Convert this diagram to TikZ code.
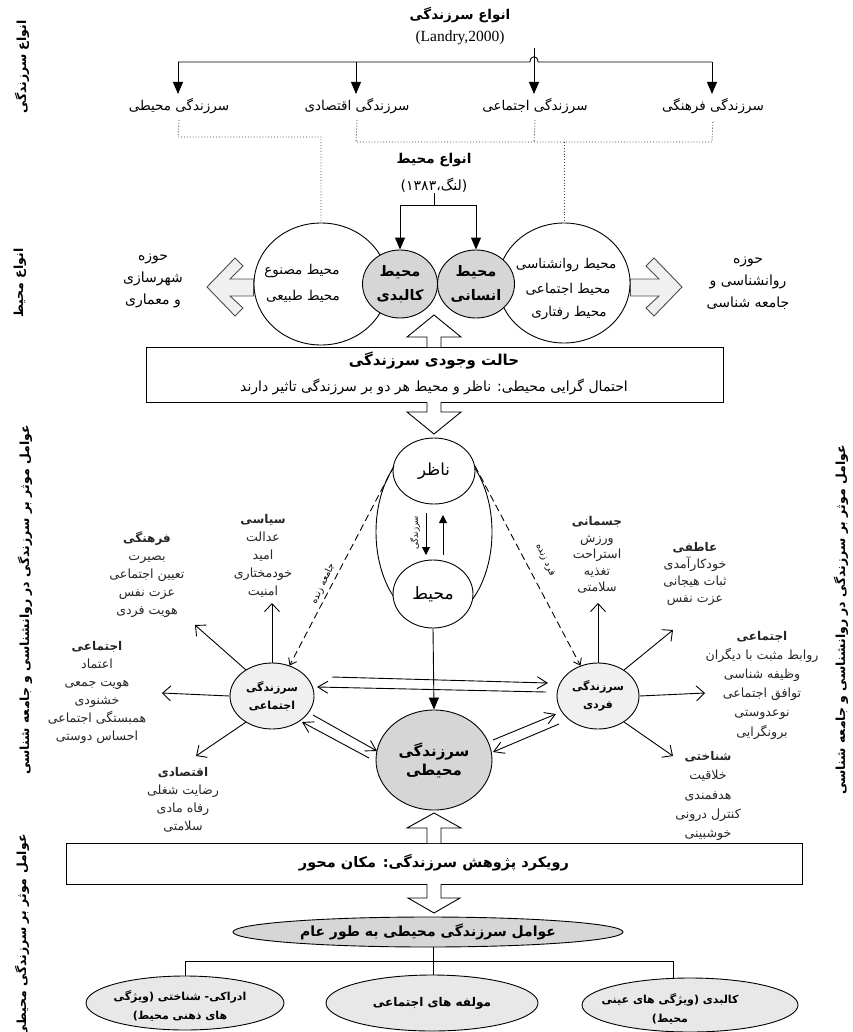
\documentclass[tikz,border=0pt]{standalone}
\usepackage{fontspec}
\setmainfont{Liberation Serif}
\newfontfamily\fafont[Script=Arabic]{DejaVu Sans}
\usetikzlibrary{arrows.meta,shapes.geometric}
\TeXXeTstate=1
\newcommand{\fa}[1]{\beginR #1\endR}
\newcommand{\fs}[2]{\fontsize{#1}{#2}\selectfont}
\begin{document}
\begin{tikzpicture}[x=1pt,y=-1pt,
  lw/.style={line width=0.9pt},
  tri/.style={-{Triangle[length=12pt,width=10pt]}, line width=0.9pt},
  trism/.style={-{Triangle[length=8pt,width=8pt]}, line width=0.9pt},
  barb/.style={-{Straight Barb[length=8pt,width=15pt]}, line width=0.9pt},
  dots/.style={line width=0.9pt, dotted, black!75},
  dsh/.style={line width=0.9pt, dash pattern=on 7pt off 4pt},
  hollow/.style={line width=0.9pt, fill=white},
  sidearrow/.style={line width=0.9pt, draw=black!70, fill=black!6},
  ell/.style={ellipse, draw, line width=0.9pt, inner sep=0pt},
  boxed/.style={rectangle, draw, line width=0.9pt, inner sep=0pt},
  txt/.style={font=\fafont\fs{13.5}{16}, inner sep=1pt},
  ttl/.style={font=\fafont\bfseries\fs{13.5}{16}, inner sep=1pt},
  vlab/.style={font=\fafont\bfseries\fs{12.5}{15}, inner sep=1pt, rotate=90},
  grp/.style={font=\fafont\fs{12.6}{18}, align=center, inner sep=1pt, text=black!85},
  pair/.style={-{Straight Barb[length=10pt,width=12pt]}, line width=0.9pt}
]
\useasboundingbox (0,0) rectangle (852,1032);
\fill[white] (0,0) rectangle (852,1032);

% ---------------- vertical side labels
\node[vlab] (v1) at (22,67) {\fa{انواع سرزندگی}};
\node[vlab] (v2) at (20,283) {\fa{انواع محیط}};
\node[vlab] (v3) at (25,600) {\fa{عوامل موثر بر سرزندگی در روانشناسی و جامعه شناسی}};
\node[vlab] (v4) at (22,936) {\fa{عوامل موثر بر سرزندگی محیطی}};
\node[vlab] (v5) at (841,620) {\fa{عوامل موثر بر سرزندگی در روانشناسی و جامعه شناسی}};

% ---------------- types of vitality
\node[ttl] (t1) at (460,15) {\fa{انواع سرزندگی}};
\node[font=\fs{15.5}{17}, inner sep=1pt] (t2) at (460,38) {(Landry,2000)};
\node[txt] (l1) at (179,106) {\fa{سرزندگی محیطی}};
\node[txt] (l2) at (357,106) {\fa{سرزندگی اقتصادی}};
\node[txt] (l3) at (535,106) {\fa{سرزندگی اجتماعی}};
\node[txt] (l4) at (713,106) {\fa{سرزندگی فرهنگی}};
\coordinate (s0) at (534,48);
\coordinate (b1) at (178,62);
\coordinate (b4) at (712,62);
\draw[lw] (b1) -- (530,62) .. controls (530,55) and (538,55) .. (538,62) -- (b4);
\draw[tri] (s0) -- (534,94);
\draw[tri] (b1) -- (178,94);
\draw[tri] (356,62) -- (356,94);
\draw[tri] (b4) -- (712,94);

% ---------------- environments
\node[ttl] (t3) at (434,160) {\fa{انواع محیط}};
\node[txt,font=\fafont\fs{14}{16}] (t4) at (434,185) {\fa{(لنگ،۱۳۸۳)}};

\node[ell, minimum width=134pt, minimum height=122pt] (envL) at (321,284) {};
\node[ell, minimum width=132pt, minimum height=120pt] (envR) at (564,283) {};
\node[ell, fill=black!16, minimum width=75pt, minimum height=68pt,
      font=\fafont\bfseries\fs{14.5}{24}, align=center] (gL) at (400,284) {\fa{محیط}\\\fa{کالبدی}};
\node[ell, fill=black!16, minimum width=77pt, minimum height=68pt,
      font=\fafont\bfseries\fs{14.5}{24}, align=center] (gR) at (476,284) {\fa{محیط}\\\fa{انسانی}};

\node[txt] (eL1) at (302,271) {\fa{محیط مصنوع}};
\node[txt] (eL2) at (303,296) {\fa{محیط طبیعی}};
\node[txt] (eR1) at (566,265) {\fa{محیط روانشناسی}};
\node[txt] (eR2) at (568,289) {\fa{محیط اجتماعی}};
\node[txt] (eR3) at (569,313) {\fa{محیط رفتاری}};

\coordinate (e0) at (434,205);
\draw[lw] (t4.south) -- (e0);
\draw[tri] (e0) -| (gL.north);
\draw[tri] (e0) -| (gR.north);

% dotted links
\coordinate (d1) at (178,137);
\coordinate (d2) at (321,137);
\coordinate (d3) at (356,142);
\coordinate (d4) at (712,142);
\coordinate (d5) at (534,142);
\coordinate (d6) at (564,142);
\draw[dots] ([yshift=-5pt]l1.south) -- (d1) -- (d2) -- (envL.north);
\draw[dots] ([yshift=-5pt]l2.south) -- (d3) -- (d4) -- ([yshift=-5pt]l4.south);
\draw[dots] ([yshift=-5pt]l3.south) -- (d5);
\draw[dots] (d6) -- (envR.north);

% side block arrows
\draw[sidearrow] (207,287) -- (235,258) -- (243,266) -- (230,279) -- (envL.west|-0,279)
   -- (envL.west|-0,296) -- (230,296) -- (243,308) -- (235,316) -- cycle;
\draw[sidearrow] (682,287) -- (654,258) -- (646,266) -- (659,279) -- (envR.east|-0,279)
   -- (envR.east|-0,296) -- (659,296) -- (646,308) -- (654,316) -- cycle;
\node[txt,font=\fafont\fs{14}{22},align=center] (zL) at (153,281) {\fa{حوزه}\\\fa{شهرسازی}\\\fa{و معماری}};
\node[txt,font=\fafont\fs{14}{22},align=center] (zR) at (748,283) {\fa{حوزه}\\\fa{روانشناسی و}\\\fa{جامعه شناسی}};

% ---------------- box 1
\node[boxed, minimum width=577pt, minimum height=55pt] (box1) at (434.5,374.5) {};
\node[ttl,font=\fafont\bfseries\fs{15}{18}] (b1t) at (434,361) {\fa{حالت وجودی سرزندگی}};
\node[txt,font=\fafont\fs{14}{16}] (b1s) at (434,387) {\fa{احتمال گرایی محیطی: ناظر و محیط هر دو بر سرزندگی تاثیر دارند}};
\draw[hollow] (427,347) -- (427,337) -- (407,337) -- (434,315) -- (461,337) -- (441,337) -- (441,347);
\draw[hollow] (427,402) -- (427,412) -- (407,412) -- (434,434) -- (461,412) -- (441,412) -- (441,402);

% ---------------- observer / environment
\node[ell, minimum width=116pt, minimum height=180pt] (ov) at (434,532) {};
\node[ell, fill=white, minimum width=82pt, minimum height=66pt, font=\fafont\fs{16.5}{18}] (nz) at (434,471) {\fa{ناظر}};
\node[ell, fill=white, minimum width=80pt, minimum height=68pt, font=\fafont\fs{17}{18}] (mh) at (433,594) {\fa{محیط}};
\coordinate (i1) at (426,513);
\coordinate (i2) at (426,555);
\coordinate (i3) at (443,555);
\coordinate (i4) at (443,515);
\draw[trism] (i1) -- (i2);
\draw[trism] (i3) -- (i4);
\node[font=\fafont\fs{8.5}{10}, inner sep=0pt, rotate=90] (sz) at (415,533) {\fa{سرزندگی}};

% ---------------- vitality circles
\node[ell, fill=black!6, minimum width=84pt, minimum height=66pt,
      font=\fafont\bfseries\fs{11}{18}, align=center] (soc) at (272,696) {\fa{سرزندگی}\\\fa{اجتماعی}};
\node[ell, fill=black!6, minimum width=82pt, minimum height=66pt,
      font=\fafont\bfseries\fs{11}{18}, align=center] (ind) at (598,696) {\fa{سرزندگی}\\\fa{فردی}};
\node[ell, fill=black!16, minimum width=116pt, minimum height=100pt,
      font=\fafont\bfseries\fs{15}{19}, align=center] (env) at (434,760) {\fa{سرزندگی}\\\fa{محیطی}};

\draw[tri] (mh.south) -- (env.north);

% dashed
\coordinate (n1) at (394,466);
\coordinate (n2) at (475,466);
\draw[dsh,-{Straight Barb[length=6pt,width=9pt]}] (n1) -- (soc.60);
\draw[dsh,-{Straight Barb[length=6pt,width=9pt]}] (n2) -- (ind.120);
\node[font=\fafont\fs{9.5}{11}, inner sep=0pt, rotate=65] (jz) at (323,584) {\fa{جامعه زنده}};
\node[font=\fafont\fs{9.5}{11}, inner sep=0pt, rotate=-65] (fz) at (545,560) {\fa{فرد زنده}};

% between circles
\coordinate (h1) at (332,677);
\coordinate (h2) at (548,683);
\coordinate (h3) at (546,692);
\coordinate (h4) at (317,687);
\draw[pair] (h1) -- (h2);
\draw[pair] (h3) -- (h4);
\coordinate (k1) at (313,715);
\coordinate (k2) at (377,751);
\coordinate (k3) at (369,758);
\coordinate (k4) at (302,722);
\draw[pair] (k1) -- (k2);
\draw[pair] (k3) -- (k4);
\coordinate (m1) at (493,740);
\coordinate (m2) at (556,714);
\coordinate (m3) at (559,724);
\coordinate (m4) at (493,752);
\draw[pair] (m1) -- (m2);
\draw[pair] (m3) -- (m4);

% outward arrows
\coordinate (sa1) at (272,603);
\coordinate (sa2) at (195,625);
\coordinate (sa3) at (162,693);
\coordinate (sa4) at (196,756);
\draw[barb] (soc.north) -- (sa1);
\draw[barb] (soc.135) -- (sa2);
\draw[barb] (soc.west) -- (sa3);
\draw[barb] (soc.225) -- (sa4);
\coordinate (ia1) at (598,603);
\coordinate (ia2) at (673,630);
\coordinate (ia3) at (705,693);
\coordinate (ia4) at (673,756);
\draw[barb] (ind.north) -- (ia1);
\draw[barb] (ind.45) -- (ia2);
\draw[barb] (ind.east) -- (ia3);
\draw[barb] (ind.315) -- (ia4);

% factor groups
\node[grp] (g1) at (147,575) {{\bfseries\fs{12}{18}\fa{فرهنگی}}\\\fa{بصیرت}\\\fa{تعیین اجتماعی}\\\fa{عزت نفس}\\\fa{هویت فردی}};
\node[grp] (g2) at (263,556) {{\bfseries\fs{12}{18}\fa{سیاسی}}\\\fa{عدالت}\\\fa{امید}\\\fa{خودمختاری}\\\fa{امنیت}};
\node[grp] (g3) at (97,692) {{\bfseries\fs{12}{18}\fa{اجتماعی}}\\\fa{اعتماد}\\\fa{هویت جمعی}\\\fa{خشنودی}\\\fa{همبستگی اجتماعی}\\\fa{احساس دوستی}};
\node[grp] (g4) at (183,800) {{\bfseries\fs{12}{18}\fa{اقتصادی}}\\\fa{رضایت شغلی}\\\fa{رفاه مادی}\\\fa{سلامتی}};
\node[grp,font=\fafont\fs{12.6}{16.5}] (g5) at (597,555) {{\bfseries\fs{12}{16.5}\fa{جسمانی}}\\\fa{ورزش}\\\fa{استراحت}\\\fa{تغذیه}\\\fa{سلامتی}};
\node[grp,font=\fafont\fs{12.6}{17.3}] (g6) at (695,574) {{\bfseries\fs{12}{17.3}\fa{عاطفی}}\\\fa{خودکارآمدی}\\\fa{ثبات هیجانی}\\\fa{عزت نفس}};
\node[grp,font=\fafont\fs{12.6}{19.2}] (g7) at (762,685) {{\bfseries\fs{12}{19.2}\fa{اجتماعی}}\\\fa{روابط مثبت با دیگران}\\\fa{وظیفه شناسی}\\\fa{توافق اجتماعی}\\\fa{نوعدوستی}\\\fa{برونگرایی}};
\node[grp,font=\fafont\fs{12.6}{19.2}] (g8) at (708,796) {{\bfseries\fs{12}{19.2}\fa{شناختی}}\\\fa{خلاقیت}\\\fa{هدفمندی}\\\fa{کنترل درونی}\\\fa{خوشبینی}};

% ---------------- box 2
\node[boxed, minimum width=736pt, minimum height=41pt] (box2) at (434,863.5) {};
\node[ttl,font=\fafont\bfseries\fs{14.5}{17}] (b2t) at (434,863) {\fa{رویکرد پژوهش سرزندگی: مکان محور}};
\draw[hollow] (427,843) -- (427,828) -- (407,828) -- (434,813) -- (461,828) -- (441,828) -- (441,843);
\draw[hollow] (427,884) -- (427,898) -- (408,898) -- (434,913) -- (460,898) -- (441,898) -- (441,884);

% ---------------- general factors
\node[ell, fill=black!16, minimum width=390pt, minimum height=30pt,
      font=\fafont\bfseries\fs{14}{16}] (eAll) at (428,932) {\fa{عوامل سرزندگی محیطی به طور عام}};
\node[ell, fill=black!9, minimum width=198pt, minimum height=54pt] (bL) at (185,1003) {};
\node[font=\fafont\bfseries\fs{11}{19}, align=center, inner sep=1pt] (bLt) at (180,1006) {\fa{ادراکی- شناختی (ویژگی}\\\fa{های ذهنی محیط)}};
\node[ell, fill=black!9, minimum width=212pt, minimum height=56pt,
      font=\fafont\bfseries\fs{12}{14}] (bM) at (432,1003) {\fa{مولفه های اجتماعی}};
\node[ell, fill=black!9, minimum width=216pt, minimum height=54pt] (bR) at (690,1005) {};
\node[font=\fafont\bfseries\fs{11}{19}, align=center, inner sep=1pt] (bRt) at (670,1009) {\fa{کالبدی (ویژگی های عینی}\\\fa{محیط)}};
\coordinate (r0) at (433,961);
\coordinate (r1) at (185,961);
\coordinate (r2) at (673,961);
\draw[lw] (eAll.south-|r0) -- (r0);
\draw[lw] (r1) -- (r2);
\draw[lw] (r1) -- (bL.north);
\draw[lw] (r0) -- (bM.north-|r0);
\draw[lw] (r2) -- (673,978.5);
\end{tikzpicture}
\end{document}
